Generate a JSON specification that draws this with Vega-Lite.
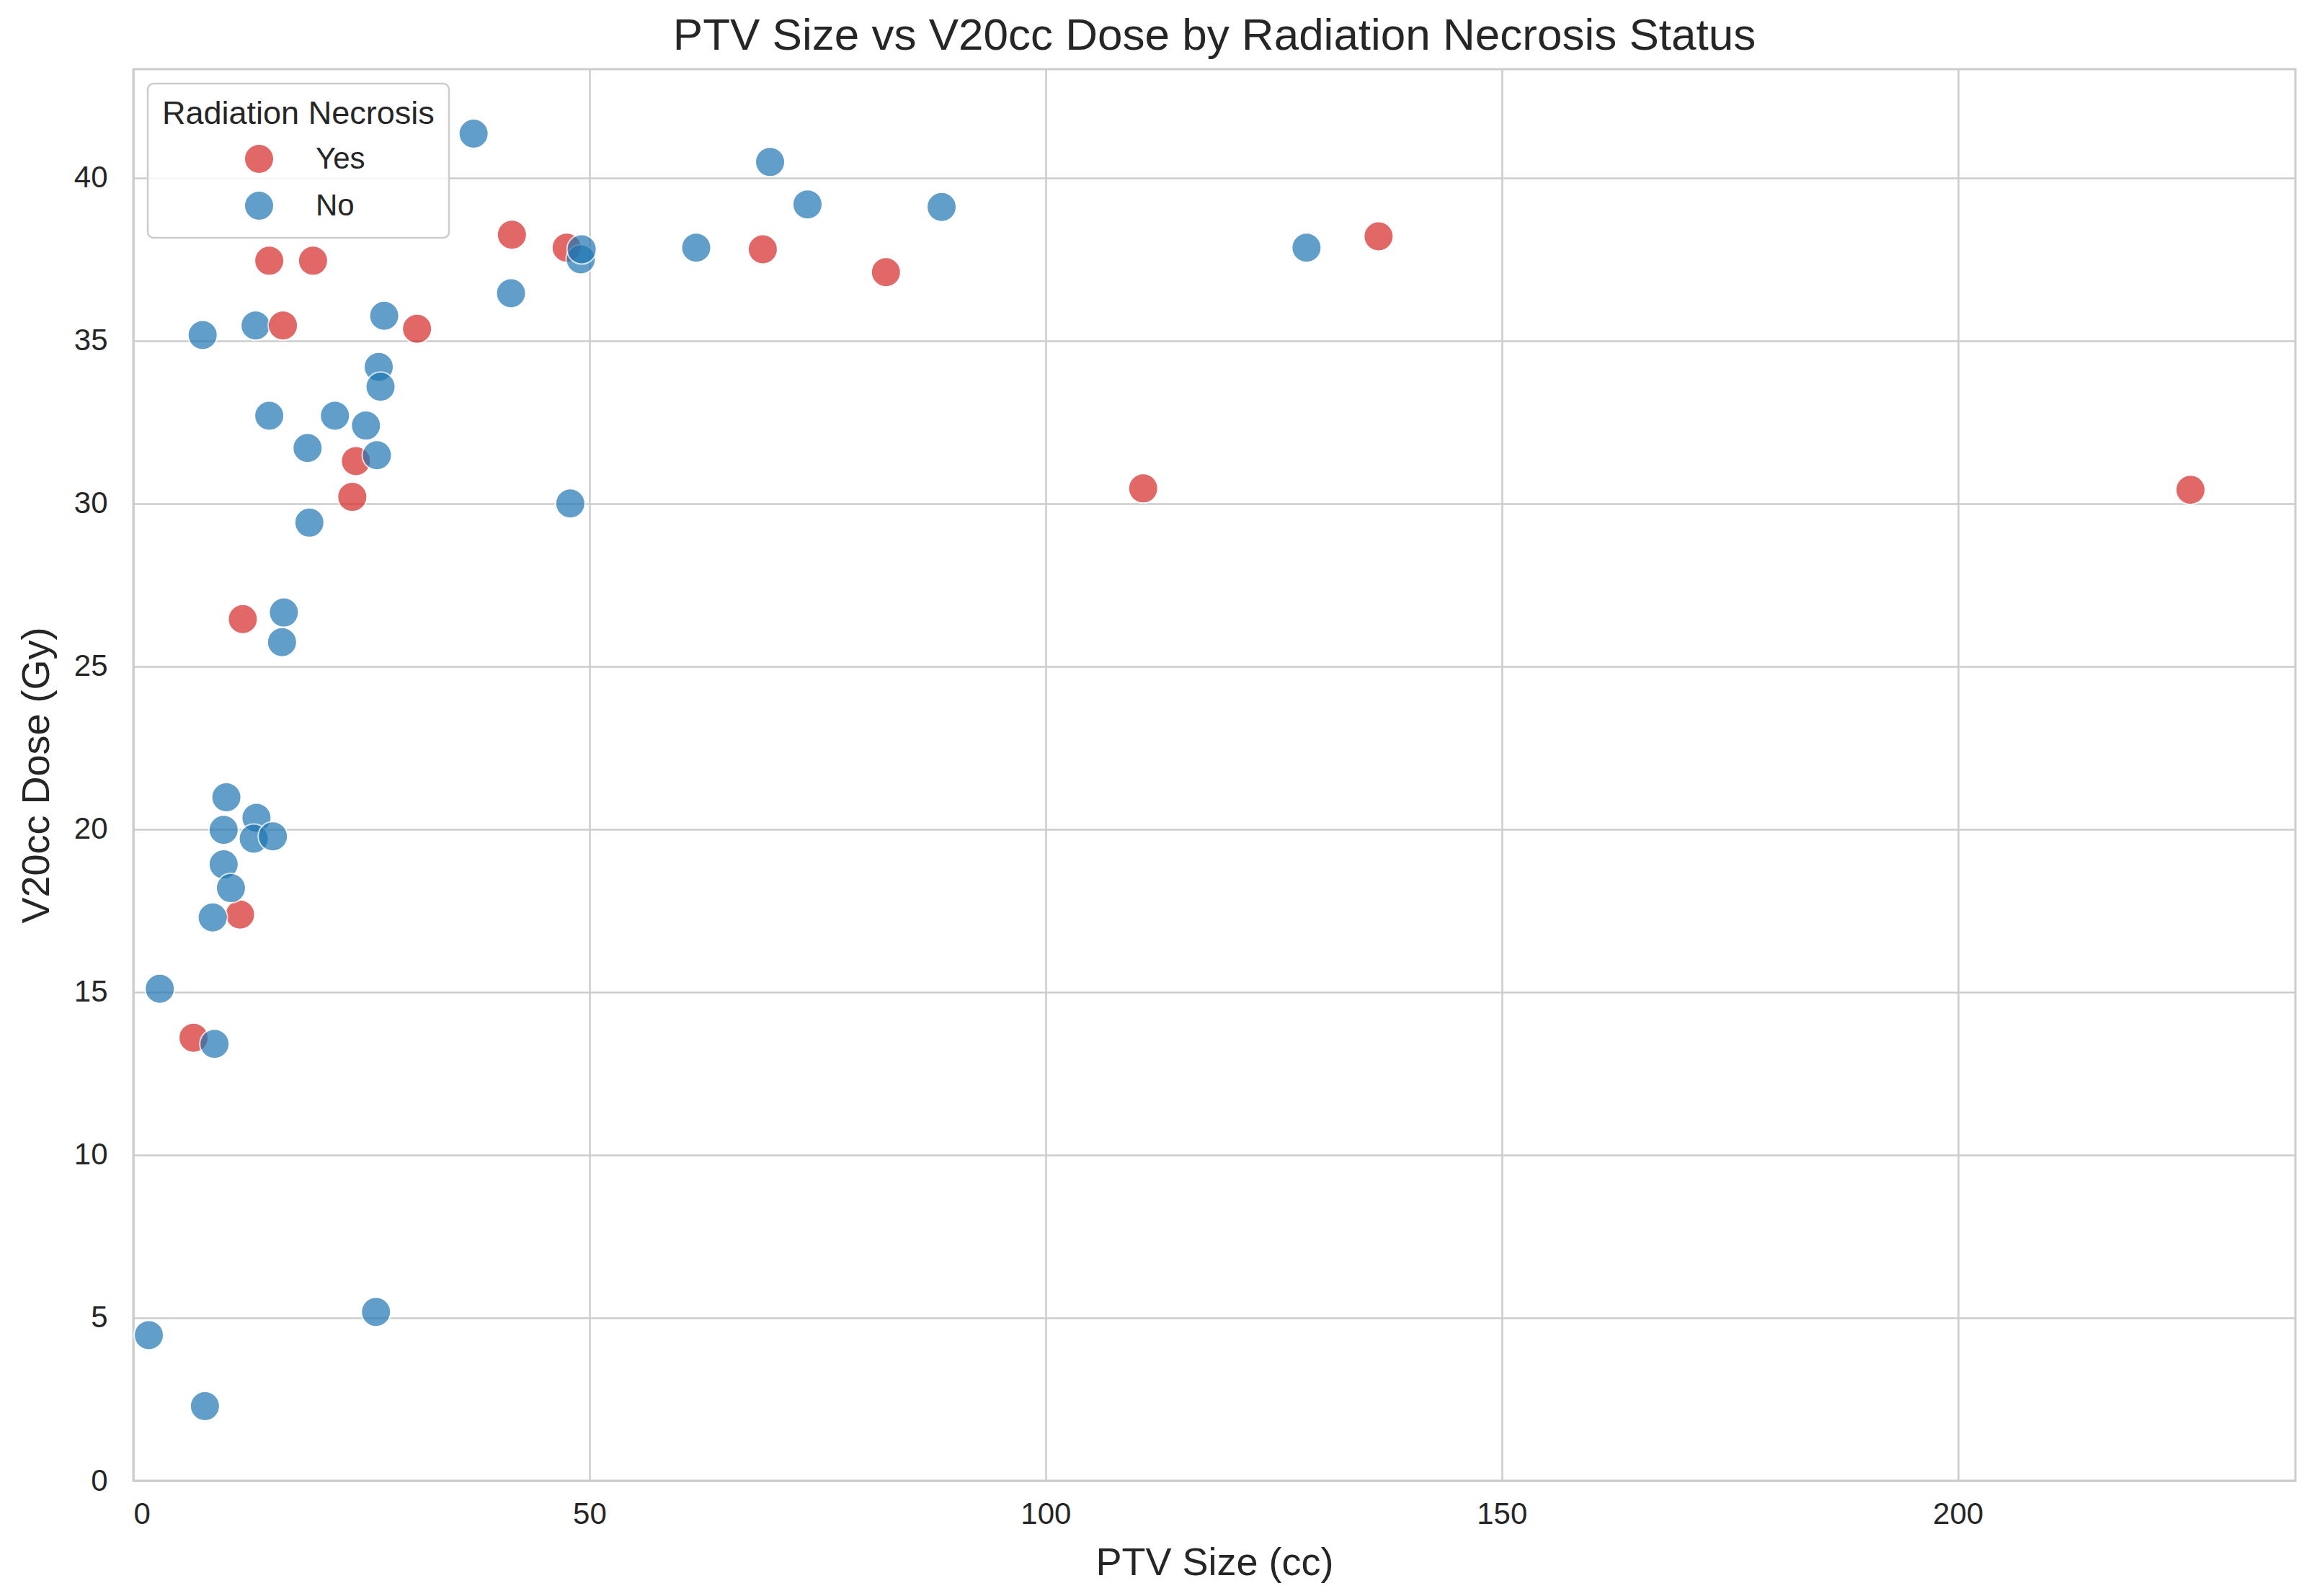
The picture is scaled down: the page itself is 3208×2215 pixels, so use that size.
{
  "$schema": "https://vega.github.io/schema/vega-lite/v6.json",
  "width": 3000,
  "height": 1959,
  "autosize": {"type": "none"},
  "padding": {"left": 185, "top": 96, "right": 23, "bottom": 160},
  "background": "white",
  "title": {
    "text": "PTV Size vs V20cc Dose by Radiation Necrosis Status",
    "font": "Liberation Sans",
    "fontSize": 62,
    "fontWeight": "normal",
    "color": "#262626",
    "anchor": "middle",
    "offset": 14
  },
  "data": {
    "values": [
      {"ptv": 13.4, "dose": 35.46, "necrosis": "No"},
      {"ptv": 14.9, "dose": 37.45, "necrosis": "Yes"},
      {"ptv": 19.7, "dose": 37.45, "necrosis": "Yes"},
      {"ptv": 16.4, "dose": 35.46, "necrosis": "Yes"},
      {"ptv": 31.1, "dose": 35.36, "necrosis": "Yes"},
      {"ptv": 41.5, "dose": 38.25, "necrosis": "Yes"},
      {"ptv": 47.5, "dose": 37.85, "necrosis": "Yes"},
      {"ptv": 24.4, "dose": 31.3, "necrosis": "Yes"},
      {"ptv": 24.0, "dose": 30.2, "necrosis": "Yes"},
      {"ptv": 12.0, "dose": 26.45, "necrosis": "Yes"},
      {"ptv": 11.7, "dose": 17.38, "necrosis": "Yes"},
      {"ptv": 6.6, "dose": 13.6, "necrosis": "Yes"},
      {"ptv": 69.0, "dose": 37.8, "necrosis": "Yes"},
      {"ptv": 82.5, "dose": 37.1, "necrosis": "Yes"},
      {"ptv": 110.7, "dose": 30.46, "necrosis": "Yes"},
      {"ptv": 136.5, "dose": 38.2, "necrosis": "Yes"},
      {"ptv": 225.5, "dose": 30.42, "necrosis": "Yes"},
      {"ptv": 37.3, "dose": 41.35, "necrosis": "No"},
      {"ptv": 69.8, "dose": 40.48, "necrosis": "No"},
      {"ptv": 73.9, "dose": 39.18, "necrosis": "No"},
      {"ptv": 88.6, "dose": 39.1, "necrosis": "No"},
      {"ptv": 61.7, "dose": 37.85, "necrosis": "No"},
      {"ptv": 128.6, "dose": 37.85, "necrosis": "No"},
      {"ptv": 49.05, "dose": 37.49, "necrosis": "No"},
      {"ptv": 49.15, "dose": 37.8, "necrosis": "No"},
      {"ptv": 41.4, "dose": 36.45, "necrosis": "No"},
      {"ptv": 7.6, "dose": 35.17, "necrosis": "No"},
      {"ptv": 27.5, "dose": 35.76, "necrosis": "No"},
      {"ptv": 26.9, "dose": 34.19, "necrosis": "No"},
      {"ptv": 27.1, "dose": 33.58, "necrosis": "No"},
      {"ptv": 14.9, "dose": 32.69, "necrosis": "No"},
      {"ptv": 22.1, "dose": 32.69, "necrosis": "No"},
      {"ptv": 25.5, "dose": 32.39, "necrosis": "No"},
      {"ptv": 19.1, "dose": 31.7, "necrosis": "No"},
      {"ptv": 26.7, "dose": 31.48, "necrosis": "No"},
      {"ptv": 47.9, "dose": 30.0, "necrosis": "No"},
      {"ptv": 19.3, "dose": 29.41, "necrosis": "No"},
      {"ptv": 16.5, "dose": 26.65, "necrosis": "No"},
      {"ptv": 16.3, "dose": 25.74, "necrosis": "No"},
      {"ptv": 10.2, "dose": 20.98, "necrosis": "No"},
      {"ptv": 13.5, "dose": 20.35, "necrosis": "No"},
      {"ptv": 9.9, "dose": 19.98, "necrosis": "No"},
      {"ptv": 13.2, "dose": 19.71, "necrosis": "No"},
      {"ptv": 15.3, "dose": 19.78, "necrosis": "No"},
      {"ptv": 9.9, "dose": 18.92, "necrosis": "No"},
      {"ptv": 10.7, "dose": 18.19, "necrosis": "No"},
      {"ptv": 8.7, "dose": 17.29, "necrosis": "No"},
      {"ptv": 2.9, "dose": 15.1, "necrosis": "No"},
      {"ptv": 8.9, "dose": 13.41, "necrosis": "No"},
      {"ptv": 1.7, "dose": 4.47, "necrosis": "No"},
      {"ptv": 7.85, "dose": 2.29, "necrosis": "No"},
      {"ptv": 26.6, "dose": 5.18, "necrosis": "No"}
    ]
  },
  "mark": {"type": "point", "shape": "circle", "filled": true, "opacity": 0.7, "stroke": "white", "strokeWidth": 2, "size": 1680},
  "encoding": {
    "x": {
      "field": "ptv", "type": "quantitative",
      "scale": {"domain": [0, 237], "nice": false, "zero": false},
      "axis": {"title": "PTV Size (cc)", "values": [0, 50, 100, 150, 200], "labelPadding": 26, "titlePadding": 20}
    },
    "y": {
      "field": "dose", "type": "quantitative",
      "scale": {"domain": [0, 43.33], "nice": false, "zero": false},
      "axis": {"title": "V20cc Dose (Gy)", "values": [0, 5, 10, 15, 20, 25, 30, 35, 40], "labelPadding": 36, "titlePadding": 24}
    },
    "color": {
      "field": "necrosis", "type": "nominal",
      "scale": {"domain": ["Yes", "No"], "range": ["#d62728", "#1f77b4"]},
      "legend": {"title": "Radiation Necrosis"}
    }
  },
  "config": {
    "view": {"stroke": "#cccccc", "strokeWidth": 3},
    "axis": {
      "grid": true, "gridColor": "#cccccc", "gridWidth": 2.5, "gridOpacity": 1,
      "domain": false, "ticks": false,
      "labelFont": "Liberation Sans", "labelFontSize": 42, "labelColor": "#262626",
      "titleFont": "Liberation Sans", "titleFontSize": 54, "titleColor": "#262626", "titleFontWeight": "normal"
    },
    "legend": {
      "orient": "top-left", "offset": 20, "padding": 20,
      "fillColor": "rgba(255,255,255,0.8)", "strokeColor": "#cccccc", "strokeWidth": 2.5, "cornerRadius": 8,
      "titleFont": "Liberation Sans", "titleFontSize": 45, "titleFontWeight": "normal", "titleColor": "#262626", "titlePadding": 18, "titleLimit": 1000,
      "labelFont": "Liberation Sans", "labelFontSize": 42, "labelColor": "#262626",
      "symbolType": "circle", "symbolSize": 1680, "symbolOpacity": 0.7, "symbolStrokeColor": "white", "symbolStrokeWidth": 2,
      "rowPadding": 16, "symbolOffset": 113, "labelOffset": 57
    }
  }
}
